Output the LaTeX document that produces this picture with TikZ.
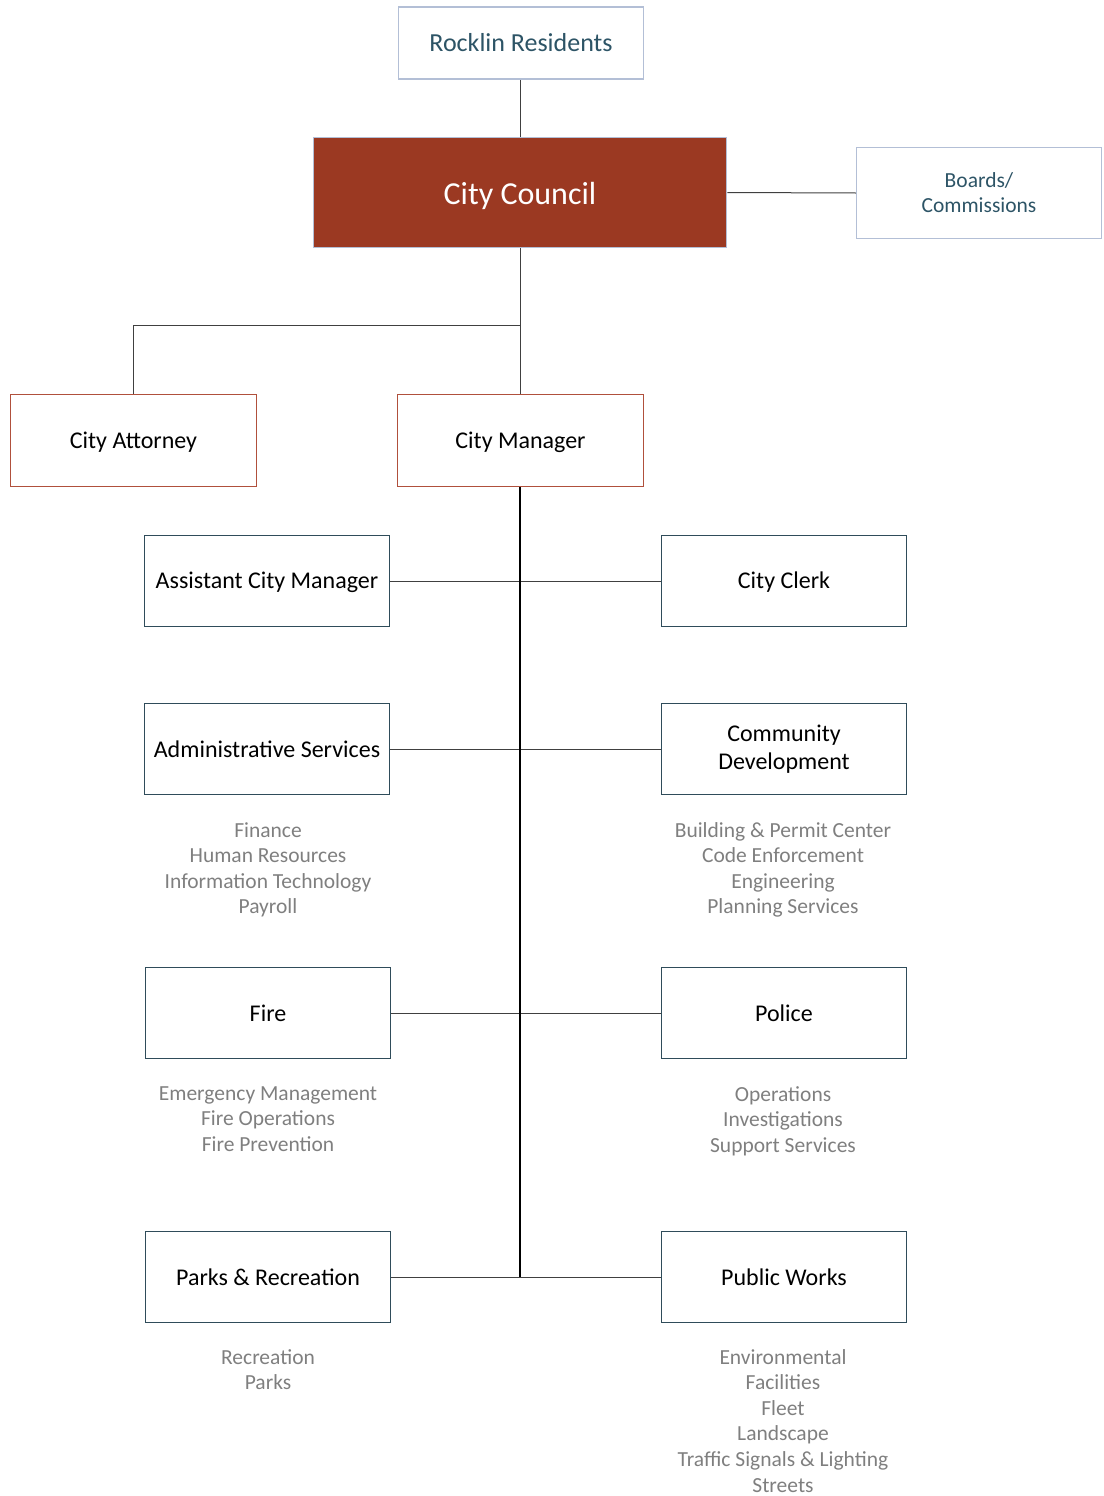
\documentclass[tikz,border=0pt]{standalone}
\usepackage{fontspec}
\setmainfont{Carlito}
\usepackage{tikz}
\usetikzlibrary{positioning}

\definecolor{councilred}{HTML}{9B3922}
\definecolor{paleblue}{HTML}{B3BFD6}
\definecolor{tealtext}{HTML}{2D5466}
\definecolor{rustline}{HTML}{B0503C}
\definecolor{deptline}{HTML}{2F4C5A}
\definecolor{subgray}{HTML}{7F7F7F}
\definecolor{linkgray}{HTML}{404040}

\newcommand{\sinktext}[2]{\raisebox{-#1}[\height][\depth]{#2}}

\begin{document}
\begin{tikzpicture}[
    x=1pt, y=-1pt,
    every node/.style={font=\fontsize{24}{28.5}\selectfont, inner sep=0pt},
    top/.style={draw=paleblue, line width=1.5pt, minimum width=245pt, minimum height=72pt, text=tealtext, font=\fontsize{26}{30}\selectfont},
    council/.style={draw=paleblue, line width=1.5pt, fill=councilred, minimum width=413pt, minimum height=110pt, text=white, font=\fontsize{32}{36}\selectfont},
    boards/.style={draw=paleblue, line width=1.5pt, minimum width=245pt, minimum height=91pt, text=tealtext, align=center, font=\fontsize{21.5}{25}\selectfont},
    lead/.style={draw=rustline, line width=1.5pt, minimum width=246pt, minimum height=92pt},
    dept/.style={draw=deptline, line width=1.5pt, minimum width=245pt, minimum height=91pt, align=center},
    units/.style={anchor=north, align=center, text=subgray, font=\fontsize{21.5}{25.6}\selectfont},
    link/.style={linkgray, line width=1pt},
    trunk/.style={black, line width=2pt}
]
\useasboundingbox (0,0) rectangle (1103,1496);

% Haut
\node[top] (res) at (521, 43) {Rocklin Residents};
\node[council] (council) at (520, 192.5) {\sinktext{3pt}{City Council}};
\node[boards] (boards) at (979, 193) {Boards/\\Commissions};

% Direction
\node[lead] (att) at (133.5, 440.5) {\sinktext{2pt}{City Attorney}};
\node[lead] (mgr) at (520.5, 440.5) {\sinktext{2pt}{City Manager}};

% Services
\node[dept] (acm) at (267, 581) {\sinktext{1.5pt}{Assistant City Manager}};
\node[dept] (clerk) at (784, 581) {\sinktext{1.5pt}{City Clerk}};
\node[dept] (admin) at (267, 749) {Administrative Services};
\node[dept] (cdev) at (784, 749) {Community\\Development};
\node[dept] (fire) at (268, 1013) {Fire};
\node[dept] (police) at (784, 1013) {Police};
\node[dept] (parks) at (268, 1277) {Parks \& Recreation};
\node[dept] (pw) at (784, 1277) {Public Works};

% Sous-unités
\node[units] (adminunits) at (268, 822) {Finance\\Human Resources\\Information Technology\\Payroll};
\node[units] (cdevunits) at (783, 822) {Building \& Permit Center\\Code Enforcement\\Engineering\\Planning Services};
\node[units] (fireunits) at (268, 1086) {Emergency Management\\Fire Operations\\Fire Prevention};
\node[units] (policeunits) at (783, 1086) {Operations\\Investigations\\Support Services};
\node[units] (parksunits) at (268, 1349) {Recreation\\Parks};
\node[units] (pwunits) at (783, 1349) {Environmental\\Facilities\\Fleet\\Landscape\\Traffic Signals \& Lighting\\Streets};

% Liaisons
\coordinate (split) at (520, 325);
\coordinate (trunkend) at (520, 1277);
\draw[link] (res.south -| 520,0) -- (council.north -| 520,0);
\draw[link] (council.east) -- (boards.west);
\draw[link] (council.south) -- (mgr.north -| council.south);
\draw[link] (att.north) |- (split);

\draw[link] (acm.east) -- (clerk.west);
\draw[link] (admin.east) -- (cdev.west);
\draw[link] (fire.east) -- (police.west);
\draw[link] (parks.east) -- (pw.west);
\draw[trunk] (mgr.south -| trunkend) -- (trunkend);

\end{tikzpicture}
\end{document}
